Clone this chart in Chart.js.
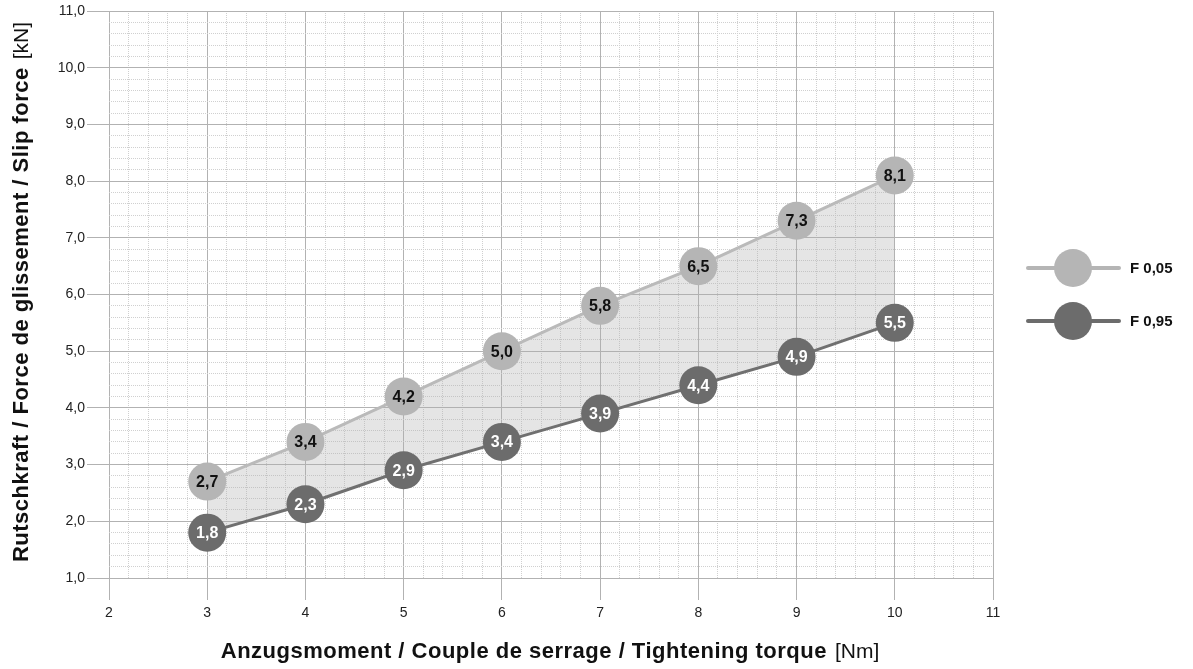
<!DOCTYPE html>
<html>
<head>
<meta charset="utf-8">
<script src="https://cdn.jsdelivr.net/npm/chart.js@4/dist/chart.umd.min.js"></script>
<style>
  html, body { margin: 0; padding: 0; background: #fff; }
  #wrap { width: 1193px; height: 669px; }
</style>
</head>
<body>
<div id="wrap"><canvas id="slipChart" width="1193" height="669"></canvas></div>
<script>
// Daten
const torque = [3, 4, 5, 6, 7, 8, 9, 10];          // Nm
const slipF005 = [2.7, 3.4, 4.2, 5.0, 5.8, 6.5, 7.3, 8.1]; // kN
const slipF095 = [1.8, 2.3, 2.9, 3.4, 3.9, 4.4, 4.9, 5.5]; // kN
const seriesNames = ['F 0,05', 'F 0,95'];
const xTitle = ['Anzugsmoment / Couple de serrage / Tightening torque', '[Nm]'];
const yTitle = ['Rutschkraft / Force de glissement / Slip force', '[kN]'];

const LIGHT = '#b5b5b5';
const DARK = '#6c6c6c';
const FONT = '"Liberation Sans", Arial, sans-serif';

function toPoints(xs, ys) {
    return xs.map((x, i) => ({ x: x, y: ys[i] }));
}

function fmt(v, dec) {
    return v.toFixed(dec).replace('.', ',');
}

function isMajor(v) {
    return Math.abs(v - Math.round(v)) < 1e-6;
}

// Gitter: Hauptlinien durchgezogen, Nebenlinien gepunktet
const gridOpts = {
    color: ctx => isMajor(ctx.tick.value) ? '#b2b2b2' : '#d0d0d0',
    lineWidth: 1,
    tickLength: 22,
    tickColor: ctx => isMajor(ctx.tick.value) ? '#b2b2b2' : 'rgba(0,0,0,0)'
};
const borderOpts = {
    display: false,
    dash: ctx => (ctx.tick && isMajor(ctx.tick.value)) ? [] : [1, 1]
};

// Werte in den Kreisen
const valueLabels = {
    id: 'valueLabels',
    afterDatasetsDraw(chart) {
        const ctx = chart.ctx;
        ctx.save();
        ctx.font = 'bold 16px ' + FONT;
        ctx.textAlign = 'center';
        ctx.textBaseline = 'middle';
        chart.data.datasets.forEach((ds, di) => {
            const meta = chart.getDatasetMeta(di);
            ctx.fillStyle = di === 0 ? '#111' : '#fff';
            meta.data.forEach((pt, i) => {
                ctx.fillText(fmt(ds.data[i].y, 1), pt.x, pt.y + 1);
            });
        });
        ctx.restore();
    }
};

// Achsentitel (fett + normal) und Legende rechts
const decorations = {
    id: 'decorations',
    afterDraw(chart) {
        const ctx = chart.ctx;
        ctx.save();
        ctx.fillStyle = '#111';
        ctx.textBaseline = 'alphabetic';
        ctx.textAlign = 'left';

        function drawTitle(parts, cx, baseY) {
            ctx.font = 'bold 22px ' + FONT;
            ctx.letterSpacing = '0.5px';
            const wb = ctx.measureText(parts[0]).width;
            ctx.font = '21px ' + FONT;
            ctx.letterSpacing = '0px';
            const wn = ctx.measureText(parts[1]).width;
            const gap = 8;
            let x = cx - (wb + gap + wn) / 2;
            ctx.font = 'bold 22px ' + FONT;
            ctx.letterSpacing = '0.5px';
            ctx.fillText(parts[0], x, baseY);
            ctx.font = '21px ' + FONT;
            ctx.letterSpacing = '0px';
            ctx.fillText(parts[1], x + wb + gap, baseY);
        }

        drawTitle(xTitle, 550, 658);

        ctx.save();
        ctx.translate(28, 292);
        ctx.rotate(-Math.PI / 2);
        drawTitle(yTitle, 0, 0);
        ctx.restore();

        // Legende
        const colors = [LIGHT, DARK];
        const rowsY = [268, 321];
        seriesNames.forEach((name, i) => {
            const y = rowsY[i];
            ctx.strokeStyle = colors[i];
            ctx.lineWidth = 4;
            ctx.lineCap = 'round';
            ctx.beginPath();
            ctx.moveTo(1028, y);
            ctx.lineTo(1119, y);
            ctx.stroke();
            ctx.fillStyle = colors[i];
            ctx.beginPath();
            ctx.arc(1073, y, 19, 0, Math.PI * 2);
            ctx.fill();
            ctx.fillStyle = '#111';
            ctx.font = 'bold 15px ' + FONT;
            ctx.textBaseline = 'middle';
            ctx.fillText(name, 1130, y + 1);
            ctx.textBaseline = 'alphabetic';
        });
        ctx.restore();
    }
};

new Chart(document.getElementById('slipChart').getContext('2d'), {
    type: 'line',
    data: {
        datasets: [
            {
                label: seriesNames[0],
                data: toPoints(torque, slipF005),
                borderColor: '#bababa',
                borderWidth: 3,
                pointRadius: 19,
                pointHoverRadius: 19,
                pointBackgroundColor: LIGHT,
                pointBorderWidth: 0,
                fill: false,
                tension: 0
            },
            {
                label: seriesNames[1],
                data: toPoints(torque, slipF095),
                borderColor: '#707070',
                borderWidth: 3,
                pointRadius: 19,
                pointHoverRadius: 19,
                pointBackgroundColor: DARK,
                pointBorderWidth: 0,
                backgroundColor: 'rgba(175,175,175,0.33)',
                fill: '-1',
                tension: 0
            }
        ]
    },
    options: {
        responsive: false,
        animation: false,
        devicePixelRatio: 1,
        layout: { autoPadding: false, padding: { left: 0, top: 11, right: 200, bottom: 0 } },
        plugins: {
            legend: { display: false },
            tooltip: { enabled: false },
            filler: { drawTime: 'beforeDatasetsDraw' }
        },
        scales: {
            x: {
                type: 'linear',
                min: 2,
                max: 11,
                ticks: {
                    stepSize: 0.2,
                    autoSkip: false,
                    maxRotation: 0,
                    padding: 5,
                    color: '#222',
                    font: { family: FONT, size: 14 },
                    callback: v => isMajor(v) ? String(Math.round(v)) : ''
                },
                grid: gridOpts,
                border: borderOpts,
                afterFit: s => { s.height = 91; s.paddingLeft = 0; s.paddingRight = 0; }
            },
            y: {
                type: 'linear',
                min: 1,
                max: 11,
                ticks: {
                    stepSize: 0.2,
                    autoSkip: false,
                    padding: 2,
                    color: '#222',
                    font: { family: FONT, size: 14 },
                    callback: v => isMajor(v) ? fmt(Math.round(v), 1) : ''
                },
                grid: gridOpts,
                border: borderOpts,
                afterFit: s => { s.width = 109; s.paddingTop = 0; s.paddingBottom = 0; }
            }
        }
    },
    plugins: [valueLabels, decorations]
});
</script>
</body>
</html>
